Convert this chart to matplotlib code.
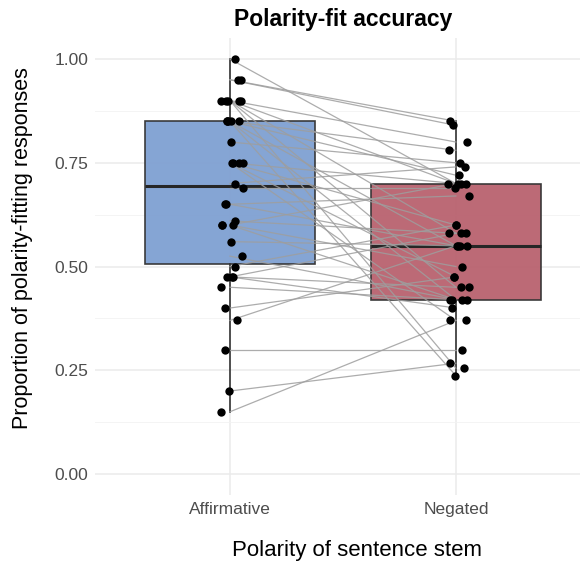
import numpy as np
import matplotlib.pyplot as plt

plt.rcParams['font.family'] = ['Liberation Sans', 'DejaVu Sans']

categories = ['Affirmative', 'Negated']

# per-participant proportions (paired)
affirmative = [1.00, 0.95, 0.95, 0.90, 0.90, 0.90, 0.90, 0.90,
               0.85, 0.85, 0.85, 0.85, 0.85, 0.80, 0.75, 0.75,
               0.75, 0.75, 0.70, 0.69, 0.65, 0.65, 0.61, 0.60,
               0.60, 0.60, 0.56, 0.525, 0.50, 0.475, 0.475, 0.475,
               0.45, 0.40, 0.37, 0.30, 0.20, 0.15]
negated = [0.70, 0.85, 0.84, 0.80, 0.70, 0.58, 0.45, 0.255,
           0.78, 0.72, 0.55, 0.42, 0.237, 0.75, 0.70, 0.60,
           0.475, 0.37, 0.74, 0.69, 0.67, 0.55, 0.58, 0.70,
           0.50, 0.42, 0.55, 0.42, 0.60, 0.58, 0.45, 0.40,
           0.42, 0.475, 0.55, 0.30, 0.267, 0.37]

y_ticks = [0.00, 0.25, 0.50, 0.75, 1.00]
box_colors = ['#7FA0D2', '#B9626F']

fig = plt.figure(figsize=(5.86, 5.64), dpi=100)
ax = fig.add_axes([0.1621, 0.1223, 0.8276, 0.8103])

# boxes
bp = ax.boxplot([affirmative, negated], positions=[1, 2], widths=0.75,
                patch_artist=True, showfliers=False, whis=1.5,
                medianprops=dict(color='#262626', linewidth=2.2),
                whiskerprops=dict(color='#333333', linewidth=1.2),
                capprops=dict(linewidth=0),
                boxprops=dict(edgecolor='#333333', linewidth=1.2),
                zorder=2)
for patch, c in zip(bp['boxes'], box_colors):
    patch.set_facecolor(c)
    patch.set_alpha(0.95)
    patch.set_edgecolor('#333333')

# paired lines
for a, n in zip(affirmative, negated):
    ax.plot([1, 2], [a, n], color='#9E9E9E', linewidth=0.9, alpha=0.85, zorder=3)

# jittered points
rng = np.random.default_rng(7)
ja = 1 + rng.uniform(-0.04, 0.06, len(affirmative))
jn = 2 + rng.uniform(-0.04, 0.06, len(negated))
ax.scatter(ja, affirmative, s=36, color='black', zorder=4, linewidths=0)
ax.scatter(jn, negated, s=36, color='black', zorder=4, linewidths=0)

ax.set_xlim(0.4027, 2.549)
ax.set_ylim(-0.0506, 1.0506)
ax.set_xticks([1, 2])
ax.set_xticklabels(categories)
ax.set_yticks(y_ticks)
ax.set_yticklabels([f'{v:.2f}' for v in y_ticks])
ax.set_yticks([0.125, 0.375, 0.625, 0.875], minor=True)

ax.grid(True, which='major', color='#EBEBEB', linewidth=1.1, zorder=0)
ax.grid(True, which='minor', axis='y', color='#F2F2F2', linewidth=0.6, zorder=0)
ax.set_axisbelow(True)
for s in ax.spines.values():
    s.set_visible(False)
ax.tick_params(which='both', length=0, labelsize=12.5, labelcolor='#4D4D4D', pad=5)

ax.set_xlabel('Polarity of sentence stem', fontsize=16)
ax.xaxis.set_label_coords(0.54, -0.098)
ax.set_ylabel('Proportion of polarity-fitting responses', fontsize=15.5)
ax.yaxis.set_label_coords(-0.128, 0.54)
ax.set_title('Polarity-fit accuracy', fontsize=16.5, fontweight='bold', pad=9, x=0.511)

fig.savefig('out.png', dpi=100)
